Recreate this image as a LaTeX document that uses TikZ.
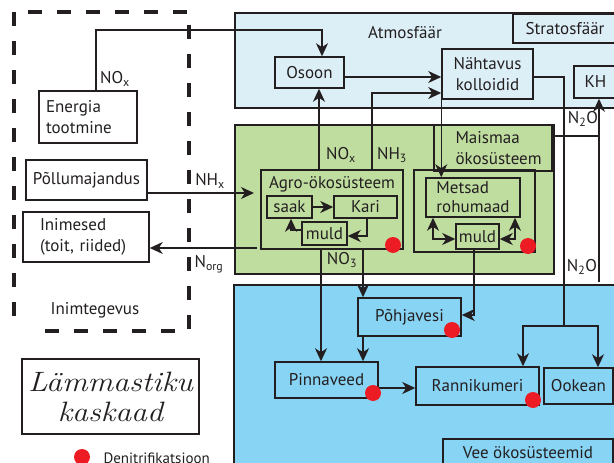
\documentclass[tikz,border=0pt]{standalone}
\usepackage{fontspec}
\newfontfamily\ptsans{PT Sans}
\usetikzlibrary{arrows.meta}
\definecolor{atmblue}{HTML}{DCEEF6}
\definecolor{landgreen}{HTML}{C0DDA0}
\definecolor{waterblue}{HTML}{88D4F5}
\definecolor{denired}{HTML}{ED1C24}
\definecolor{ink}{HTML}{231F20}
\begin{document}
\begin{tikzpicture}[x=1pt,y=-1pt,
  every node/.style={font=\ptsans\fontsize{17}{21}\selectfont, text=ink},
  box/.style={draw=ink, line width=1.5pt, inner sep=0pt},
  region/.style={draw=ink, line width=1.5pt},
  conn/.style={draw=ink, line width=1.4pt},
  arr/.style={conn, -{Stealth[length=13pt,width=12pt,inset=4pt]}},
  darr/.style={conn, {Stealth[length=13pt,width=12pt,inset=4pt]}-{Stealth[length=13pt,width=12pt,inset=4pt]}},
  dot/.style={circle, fill=denired, minimum size=16pt, inner sep=0pt},
  lbl/.style={inner sep=0pt},
  dashedge/.style={draw=ink, line width=4pt, dash pattern=on 14pt off 15pt}]
\useasboundingbox (0,0) rectangle (614,463);
\clip (0,0) rectangle (614,463);
% regions
\draw[region, fill=atmblue] (235,13) rectangle (620,108);
\draw[region, fill=landgreen] (235,125) rectangle (554,274);
\draw[region, fill=waterblue] (234,285) rectangle (620,470);
% human activity dashed frame
\draw[dashedge] (14,12) -- (14,331);
\draw[dashedge] (28,12) -- (189,12);
\draw[dashedge] (189,25) -- (189,331);
\draw[dashedge] (45,331) -- (180,331);
% human side nodes
\node[box, minimum width=98pt, minimum height=52pt, text width=84pt, align=left] (energia) at (88,117) {Energia\\tootmine};
\node[box, minimum width=121pt, minimum height=40pt] (pollu) at (86.5,180) {Põllumajandus};
\node[box, minimum width=126pt, minimum height=50pt, text width=92pt, align=left] (inimesed) at (86,237) {Inimesed\\(toit, riided)};
\node (inimtegevus) at (95,310) {Inimtegevus};
\node[box, minimum width=177pt, minimum height=75pt, align=center, font=\normalfont\itshape\fontsize{28}{30}\selectfont] (kaskaad) at (110.5,396.5) {\scalebox{1.14}[1]{Lämmastiku}\\\scalebox{1.14}[1]{kaskaad}};
\node[dot] (legdot) at (82,457) {};
\node[anchor=west, font=\ptsans\fontsize{15}{17}\selectfont] (legtxt) at (100,458) {Denitrifikatsioon};
% atmosphere
\node (atmlbl) at (405,33) {Atmosfäär};
\node[box, minimum width=104pt, minimum height=29pt] (strat) at (565,28.5) {Stratosfäär};
\node[box, minimum width=69pt, minimum height=31pt] (osoon) at (309.5,72.5) {Osoon};
\node[box, minimum width=91pt, minimum height=50pt, align=center] (nahtavus) at (487.5,74) {Nähtavus\\kolloidid};
\node[box, minimum width=43pt, minimum height=32pt] (kh) at (595.5,82) {KH};
% land
\node[box, minimum width=118pt, minimum height=46pt] (maismaa) at (493,148) {};
\node[align=left, anchor=west] (maismaalbl) at (452,148) {Maismaa\\ökosüsteem};
\node[box, minimum width=142pt, minimum height=79pt] (agro) at (332,209.5) {};
\node (agrotitle) at (332,184) {Agro-ökosüsteem};
\node[box, minimum width=45pt, minimum height=22pt] (saak) at (289.5,207) {saak};
\node[box, minimum width=63pt, minimum height=22pt] (kari) at (365.5,207) {Kari};
\node[box, minimum width=45pt, minimum height=23pt] (muldA) at (324.5,233.5) {muld};
\node[box, minimum width=121pt, minimum height=82pt] (metsout) at (474.5,211) {};
\node[box, minimum width=94pt, minimum height=39pt, align=left, font=\ptsans\fontsize{17}{19}\selectfont] (metsad) at (473,197.5) {Metsad\\rohumaad};
\node[box, minimum width=43pt, minimum height=25pt] (muldB) at (477.5,236.5) {muld};
% water
\node[box, minimum width=103pt, minimum height=38pt] (pohjavesi) at (409.5,317) {Põhjavesi};
\node[box, minimum width=103pt, minimum height=36pt] (pinnaveed) at (326.5,380) {Pinnaveed};
\node[box, minimum width=123pt, minimum height=38pt] (rannikumeri) at (477.5,386) {Rannikumeri};
\node[box, minimum width=69pt, minimum height=36pt] (ookean) at (578.5,386) {Ookean};
\node[box, minimum width=170pt, minimum height=28pt] (vee) at (528,453) {Vee ökosüsteemid};
% free ends
\coordinate (nhxend) at (254,193);
\coordinate (norgstart) at (257,248);
\coordinate (split) at (564,326);
\coordinate (khfoot) at (599,282);
% connectors
\draw[arr] ([xshift=8pt]energia.north) |- (322,30) -- (322,0 |- osoon.north);
\draw[arr] (319,0 |- agro.north) -- (319,0 |- osoon.south);
\draw[arr] (372,0 |- agro.north) |- (nahtavus.west |- 0,93);
\draw[arr] (osoon.east |- 0,77) -- (nahtavus.west |- 0,77);
\draw[arr] (nahtavus.south west) -- (nahtavus.south west |- metsad.north);
\draw[conn] (nahtavus.east |- 0,77) -| (split);
\draw[arr] (split) -| (523,0 |- rannikumeri.north);
\draw[arr] (split) -| (598,0 |- ookean.north);
\draw[arr] (khfoot) -- (599,0 |- kh.south);
\draw[conn] (maismaa.east |- 0,136) -- (599,136);
\draw[arr] (pollu.east |- 0,193) -- (nhxend);
\draw[arr] (norgstart) -- (inimesed.east |- 0,248);
\draw[arr] (321,0 |- agro.south) -- (321,0 |- pinnaveed.north);
\draw[arr] (363,0 |- agro.south) -- (363,0 |- pohjavesi.north);
\draw[arr] (363,0 |- pohjavesi.south) -- (363,0 |- pinnaveed.north);
\draw[arr] (474,0 |- muldB.south) |- (pohjavesi.east |- 0,315);
\draw[arr] (pinnaveed.east |- 0,388) -- (rannikumeri.west |- 0,388);
\draw[arr] (saak.east) -- (kari.west);
\draw[arr] (367,0 |- kari.south) |- (muldA.east |- 0,236);
\draw[arr] (muldA.west |- 0,230) -| (291,0 |- saak.south);
\draw[darr] (433,0 |- metsad.south) |- (muldB.west |- 0,239);
\draw[darr] (515,0 |- metsad.south) |- (muldB.east |- 0,239);
% flow labels
\node[lbl] (lnoxA) at (115,79) {NO\textsubscript{x}};
\node[lbl] (lnoxB) at (341,155) {NO\textsubscript{x}};
\node[lbl] (lnh3) at (392,155) {NH\textsubscript{3}};
\node[lbl] (lnhx) at (210,181) {NH\textsubscript{x}};
\node[lbl] (lnorg) at (209,264) {N\textsubscript{org}};
\node[lbl] (lno3) at (342,260) {NO\textsubscript{3}};
\node[lbl] (ln2oA) at (583,119) {N\textsubscript{2}O};
\node[lbl] (ln2oB) at (582,267) {N\textsubscript{2}O};
% denitrification dots
\node[dot] (dagro) at (393,245) {};
\node[dot] (dmets) at (528,246) {};
\node[dot] (dpohja) at (452,330) {};
\node[dot] (dpinna) at (373,393) {};
\node[dot] (dranni) at (533,400) {};
\end{tikzpicture}
\end{document}
